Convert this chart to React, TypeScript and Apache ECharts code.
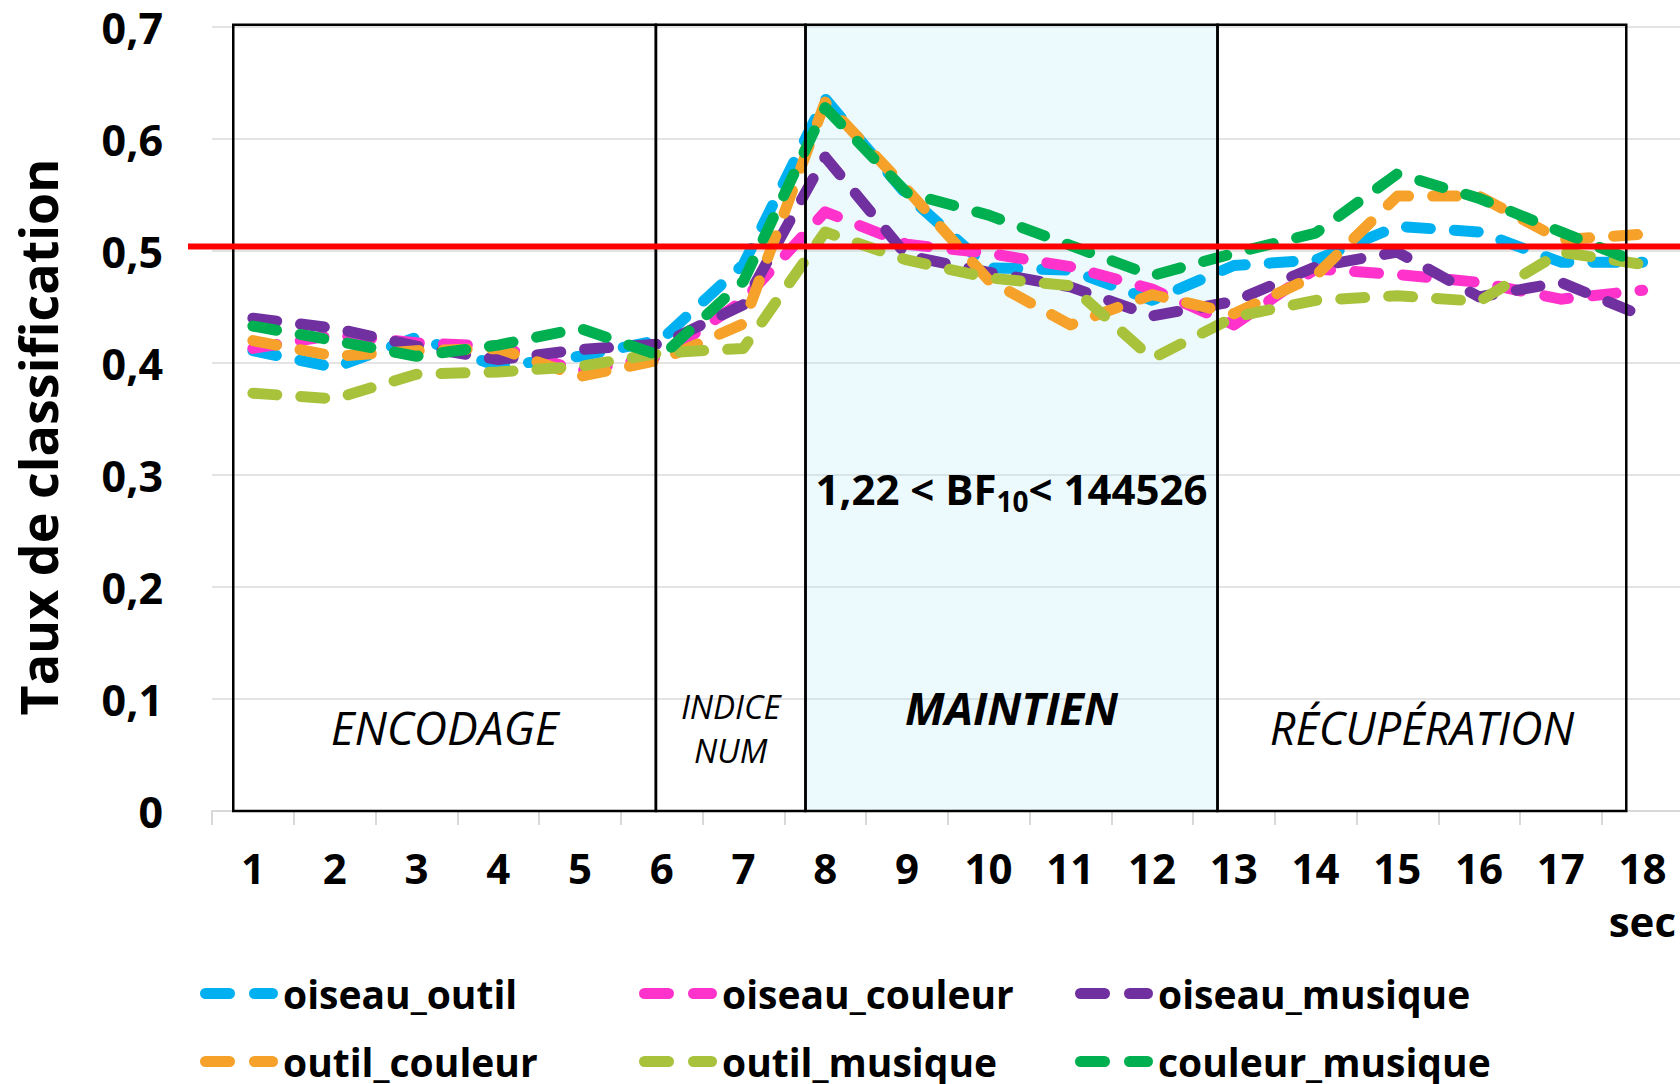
import React, { useEffect, useRef } from "react";
import * as echarts from "echarts";

const FONT = "'Open Sans', 'DejaVu Sans', sans-serif";

// ---- data ----
const seconds = ["1", "2", "3", "4", "5", "6", "7", "8", "9", "10", "11", "12", "13", "14", "15", "16", "17", "18"];

const oiseauOutil = [0.411, 0.396, 0.423, 0.397, 0.406, 0.421, 0.488, 0.636, 0.55, 0.485, 0.483, 0.456, 0.487, 0.492, 0.522, 0.517, 0.49, 0.49];
const oiseauCouleur = [0.413, 0.425, 0.418, 0.415, 0.393, 0.406, 0.456, 0.535, 0.506, 0.498, 0.486, 0.466, 0.434, 0.484, 0.479, 0.472, 0.457, 0.465];
const oiseauMusique = [0.44, 0.431, 0.415, 0.403, 0.412, 0.417, 0.452, 0.584, 0.496, 0.481, 0.468, 0.442, 0.455, 0.486, 0.499, 0.459, 0.472, 0.442];
const outilCouleur = [0.42, 0.406, 0.411, 0.413, 0.388, 0.403, 0.435, 0.633, 0.555, 0.474, 0.434, 0.461, 0.444, 0.478, 0.549, 0.549, 0.51, 0.515];
const outilMusique = [0.373, 0.368, 0.39, 0.392, 0.397, 0.409, 0.413, 0.517, 0.492, 0.476, 0.469, 0.404, 0.441, 0.456, 0.46, 0.455, 0.499, 0.488];
const couleurMusique = [0.433, 0.42, 0.406, 0.416, 0.431, 0.406, 0.473, 0.628, 0.552, 0.532, 0.505, 0.478, 0.498, 0.516, 0.569, 0.547, 0.517, 0.488];

const seriesNames = ["oiseau_outil", "oiseau_couleur", "oiseau_musique", "outil_couleur", "outil_musique", "couleur_musique"];
const seriesValues = [oiseauOutil, oiseauCouleur, oiseauMusique, outilCouleur, outilMusique, couleurMusique];

const phaseNames = ["ENCODAGE", "INDICE\nNUM", "MAINTIEN", "RÉCUPÉRATION"];
const phaseStart = [0.76, 5.93, 7.76, 12.8];
const phaseEnd = [5.93, 7.76, 12.8, 17.8];

const chanceLevel = 0.504;
const bfLower = "1,22";
const bfUpper = "144526";
const xAxisUnit = "sec";
const yAxisTitle = "Taux de classification";

// ---- styles / layout ----
const seriesColors = ["#00B0F0", "#FF33CC", "#7030A0", "#F5A12A", "#A9C23C", "#00B050"];
const phaseFills = ["none", "none", "rgba(180,235,245,0.24)", "none"];
const BOX_TOP = 0.702;
const phaseLabelY = [0.075, 0.074, 0.092, 0.075];
const phaseLabelFont = [
  { fontSize: 46, fontStyle: "italic", fontWeight: "normal", lineHeight: 50 },
  { fontSize: 33, fontStyle: "italic", fontWeight: "normal", lineHeight: 44 },
  { fontSize: 45, fontStyle: "italic", fontWeight: "bold", lineHeight: 50 },
  { fontSize: 45, fontStyle: "italic", fontWeight: "normal", lineHeight: 50 },
];
const BF_Y = 0.288;
const legendPos = [
  [200, 974],
  [639, 974],
  [1075, 974],
  [200, 1042],
  [639, 1042],
  [1075, 1042],
];
const LEGEND_ICON =
  "path://M5.5,0 H29.5 A5.5,5.5 0 0 1 29.5,11 H5.5 A5.5,5.5 0 0 1 5.5,0 Z M54.5,0 H72.5 A5.5,5.5 0 0 1 72.5,11 H54.5 A5.5,5.5 0 0 1 54.5,0 Z";

export default function App() {
  const ref = useRef<HTMLDivElement>(null);

  useEffect(() => {
    if (!ref.current) return;
    const chart = echarts.init(ref.current, undefined, { renderer: "svg" });

    const boxData = phaseStart.map((s, i) => [s, phaseEnd[i], 0]);

    const fillItem = (params: any, api: any) => {
      const i = params.dataIndex;
      const tl = api.coord([api.value(0), BOX_TOP]);
      const br = api.coord([api.value(1), 0]);
      return {
        type: "rect",
        shape: { x: tl[0], y: tl[1], width: br[0] - tl[0], height: br[1] - tl[1] },
        style: { fill: phaseFills[i], stroke: "none" },
      };
    };

    const borderItem = (params: any, api: any) => {
      const i = params.dataIndex;
      const tl = api.coord([api.value(0), BOX_TOP]);
      const br = api.coord([api.value(1), 0]);
      const cx = (tl[0] + br[0]) / 2;
      const f = phaseLabelFont[i];
      const children: any[] = [
        {
          type: "rect",
          shape: { x: tl[0], y: tl[1], width: br[0] - tl[0], height: br[1] - tl[1] },
          style: { fill: "none", stroke: "#000", lineWidth: 2.5 },
        },
        {
          type: "text",
          x: cx,
          y: api.coord([api.value(0), phaseLabelY[i]])[1],
          style: {
            text: phaseNames[i],
            fill: "#000",
            fontFamily: FONT,
            fontSize: f.fontSize,
            fontStyle: f.fontStyle,
            fontWeight: f.fontWeight,
            lineHeight: f.lineHeight,
            align: "center",
            verticalAlign: "middle",
          },
        },
      ];
      if (i === 2) {
        children.push({
          type: "text",
          x: cx,
          y: api.coord([api.value(0), BF_Y])[1],
          style: {
            text: `{a|${bfLower} < BF}{s|10}{a|< ${bfUpper}}`,
            align: "center",
            verticalAlign: "middle",
            rich: {
              a: { fontFamily: FONT, fontSize: 42, fontWeight: "bold", fill: "#000", lineHeight: 42 },
              s: { fontFamily: FONT, fontSize: 28, fontWeight: "bold", fill: "#000", lineHeight: 28, padding: [26, 0, 0, 0] },
            },
          },
        });
      }
      return { type: "group", children };
    };

    const option: any = {
      animation: false,
      backgroundColor: "#fff",
      grid: { left: 212, top: 27, right: -3.5, bottom: 273, containLabel: false, outerBoundsMode: "none" },
      xAxis: [
        {
          type: "category",
          data: seconds,
          boundaryGap: true,
          axisLine: { show: true, lineStyle: { color: "#d9d9d9", width: 2 } },
          axisTick: { show: true, length: 14, lineStyle: { color: "#d9d9d9", width: 2 } },
          axisLabel: {
            interval: 0,
            margin: 35,
            color: "#000",
            fontFamily: FONT,
            fontSize: 42,
            fontWeight: "bold",
            lineHeight: 42,
          },
          splitLine: { show: false },
        },
        { type: "value", min: 0.5, max: 18.5, show: false },
      ],
      yAxis: {
        type: "value",
        min: 0,
        max: 0.7,
        interval: 0.1,
        axisLine: { show: false },
        axisTick: { show: false },
        splitLine: { show: true, lineStyle: { color: "#e4e4e4", width: 2 } },
        axisLabel: {
          margin: 49,
          color: "#000",
          fontFamily: FONT,
          fontSize: 43,
          fontWeight: "bold",
          formatter: (v: number) => String(Math.round(v * 10) / 10).replace(".", ","),
        },
      },
      legend: seriesNames.map((n, i) => ({
        data: [{ name: n, icon: LEGEND_ICON }],
        left: legendPos[i][0],
        top: legendPos[i][1],
        padding: 0,
        itemGap: 0,
        itemWidth: 78,
        itemHeight: 11,
        selectedMode: false,
        textStyle: { color: "#000", fontFamily: FONT, fontSize: 39, fontWeight: "bold" },
      })),
      series: [
        {
          type: "custom",
          name: "phases-fill",
          xAxisIndex: 1,
          yAxisIndex: 0,
          data: boxData,
          encode: { x: [0, 1], y: 2 },
          renderItem: fillItem,
          silent: true,
          z: 1,
        },
        ...seriesNames.map((n, i) => ({
          type: "line",
          name: n,
          data: seriesValues[i],
          xAxisIndex: 0,
          yAxisIndex: 0,
          symbol: "none",
          showSymbol: false,
          z: 3,
          itemStyle: { color: seriesColors[i] },
          lineStyle: { color: seriesColors[i], width: 11, type: [24, 24], cap: "round", join: "round" },
        })),
        {
          type: "custom",
          name: "phases-border",
          xAxisIndex: 1,
          yAxisIndex: 0,
          data: boxData,
          encode: { x: [0, 1], y: 2 },
          renderItem: borderItem,
          silent: true,
          z: 4,
        },
      ],
    };

    chart.setOption(option);

    const yChance = chart.convertToPixel({ yAxisIndex: 0 }, chanceLevel) as number;
    chart.setOption({
      graphic: [
        {
          type: "line",
          z: 100,
          shape: { x1: 188, y1: yChance, x2: 1680, y2: yChance },
          style: { stroke: "#FF0000", lineWidth: 6 },
        },
        {
          type: "text",
          z: 100,
          x: 37,
          y: 437,
          rotation: Math.PI / 2,
          style: {
            text: yAxisTitle,
            fill: "#000",
            fontFamily: FONT,
            fontSize: 52,
            fontWeight: "bold",
            align: "center",
            verticalAlign: "middle",
          },
        },
        {
          type: "text",
          z: 100,
          x: 1676,
          y: 920,
          style: {
            text: xAxisUnit,
            fill: "#000",
            fontFamily: FONT,
            fontSize: 42,
            fontWeight: "bold",
            align: "right",
            verticalAlign: "middle",
          },
        },
      ],
    });

    return () => chart.dispose();
  }, []);

  return (
    <div style={{ position: "fixed", left: 0, top: 0, width: 1680, height: 1084, overflow: "hidden", background: "#fff" }}>
      <div ref={ref} style={{ width: 1680, height: 1084 }} />
    </div>
  );
}
